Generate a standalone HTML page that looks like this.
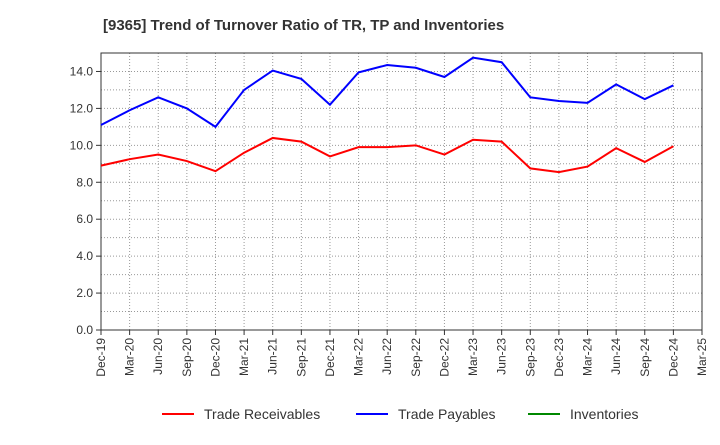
<!DOCTYPE html>
<html><head><meta charset="utf-8"><style>
body{margin:0;background:#fff;font-family:"Liberation Sans",sans-serif}
</style></head><body>
<svg id="c" width="720" height="440" xmlns="http://www.w3.org/2000/svg">
<text x="103" y="30" text-anchor="start" font-size="15" font-weight="bold" fill="#333">[9365]  Trend of Turnover Ratio of TR, TP and Inventories</text>
<g id="grid"></g><g id="axes"></g><g id="series"></g>
<g>
<line x1="162" y1="414" x2="194" y2="414" stroke="#f00" stroke-width="2"/>
<text x="204" y="419" font-size="14" fill="#333">Trade Receivables</text>
<line x1="356" y1="414" x2="388" y2="414" stroke="#00f" stroke-width="2"/>
<text x="398" y="419" font-size="14" fill="#333">Trade Payables</text>
<line x1="528" y1="414" x2="560" y2="414" stroke="#080" stroke-width="2"/>
<text x="570" y="419" font-size="14" fill="#333">Inventories</text>
</g>
</svg>
<script>
const categories=["Dec-19","Mar-20","Jun-20","Sep-20","Dec-20","Mar-21","Jun-21","Sep-21","Dec-21","Mar-22","Jun-22","Sep-22","Dec-22","Mar-23","Jun-23","Sep-23","Dec-23","Mar-24","Jun-24","Sep-24","Dec-24","Mar-25"];
const receivables=[8.9,9.25,9.5,9.15,8.6,9.6,10.4,10.2,9.4,9.9,9.9,10.0,9.5,10.3,10.2,8.75,8.55,8.85,9.85,9.1,9.95];
const payables=[11.1,11.9,12.6,12.0,11.0,13.0,14.05,13.6,12.2,13.95,14.35,14.2,13.7,14.75,14.5,12.6,12.4,12.3,13.3,12.5,13.25];
const yTicks=[0,2,4,6,8,10,12,14];
const L=101,R=702,T=53,B=330,YMAX=15;
const ns="http://www.w3.org/2000/svg";
const xs=i=>L+i*(R-L)/(categories.length-1);
const ys=v=>B-v*(B-T)/YMAX;
function mk(p,tag,a){const e=document.createElementNS(ns,tag);for(const k in a)e.setAttribute(k,a[k]);document.getElementById(p).appendChild(e);return e;}
for(let v=1;v<YMAX;v++){const l=mk("grid","line",{x1:L,x2:R,y1:ys(v),y2:ys(v),stroke:"#999","stroke-dasharray":"1,2","stroke-width":1});

}
categories.forEach((c,i)=>{const x=xs(i);
if(i>0&&i<categories.length-1){const l=mk("grid","line",{x1:x,x2:x,y1:T,y2:B,stroke:"#999","stroke-dasharray":"1,2","stroke-width":1});

}
mk("axes","line",{x1:x,x2:x,y1:B,y2:B+5,stroke:"#333"});
const t=mk("axes","text",{x:0,y:0,"font-size":12,fill:"#333","text-anchor":"end",transform:`translate(${x+4},${B+8}) rotate(-90)`});
t.textContent=c;

});
const f=mk("axes","rect",{x:L,y:T,width:R-L,height:B-T,fill:"none",stroke:"#333"});


yTicks.forEach(v=>{mk("axes","line",{x1:L-5,x2:L,y1:ys(v),y2:ys(v),stroke:"#333"});
const t=mk("axes","text",{x:L-8,y:ys(v)+4,"font-size":12,fill:"#333","text-anchor":"end"});
t.textContent=v.toFixed(1);

});
function line(d,col,name){const p=mk("series","polyline",{points:d.map((v,i)=>xs(i)+","+ys(v)).join(" "),fill:"none",stroke:col,"stroke-width":2});

}
line(receivables,"#f00","trade-receivables-line");
line(payables,"#00f","trade-payables-line");
</script>
</body></html>
